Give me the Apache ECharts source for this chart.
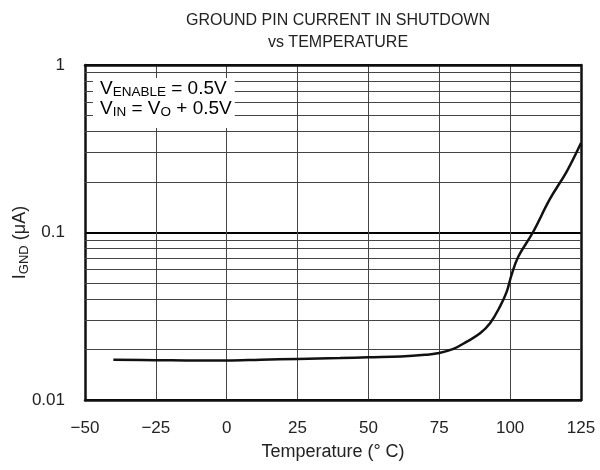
<!DOCTYPE html>
<html>
<head>
<meta charset="utf-8">
<script src="https://cdn.jsdelivr.net/npm/echarts@6/dist/echarts.min.js"></script>
<style>
  html, body { margin: 0; padding: 0; background: #fff; }
  #chart { width: 600px; height: 470px; }
</style>
</head>
<body>
<div id="chart"></div>
<script>
// Ground pin current in shutdown vs temperature
const temperature = [-40, -25, -10, 0, 12, 25, 40, 50, 61.5, 70, 74.4, 80, 84.7, 89.4, 92.9, 96.4, 98.8, 100.5, 102.9, 108, 114, 120, 125];
const groundCurrent = [0.0174, 0.0173, 0.0172, 0.0172, 0.0174, 0.0176, 0.0178, 0.0180, 0.0182, 0.0186, 0.0190, 0.0202, 0.0223, 0.0250, 0.0287, 0.0361, 0.0444, 0.0559, 0.0719, 0.1000, 0.1580, 0.2320, 0.3420];

// Log-decade minor grid values (2..9 within each decade)
const minorGrid = [0.02, 0.03, 0.04, 0.05, 0.06, 0.07, 0.08, 0.09, 0.2, 0.3, 0.4, 0.5, 0.6, 0.7, 0.8, 0.9];
const yTickLabels = { 0.01: '0.01', 0.1: '0.1', 1: '1' };

const FONT = '"Liberation Sans", Arial, Helvetica, sans-serif';

const chart = echarts.init(document.getElementById('chart'));

const frameAxis = { show: true, onZero: false, lineStyle: { color: '#111', width: 2.5 } };

const option = {
  backgroundColor: '#fff',
  animation: false,
  title: {
    text: 'GROUND PIN CURRENT IN SHUTDOWN\nvs TEMPERATURE',
    left: 333,
    textAlign: 'center',
    top: 5,
    textStyle: { fontFamily: FONT, fontSize: 16, fontWeight: 'normal', color: '#222', lineHeight: 22 }
  },
  grid: { left: 85, right: 19, top: 65, bottom: 70, containLabel: false, outerBoundsMode: 'none' },
  xAxis: [{
    type: 'value',
    min: -50, max: 125, interval: 25,
    name: 'Temperature (° C)',
    nameLocation: 'middle',
    nameGap: 43,
    nameTextStyle: { fontFamily: FONT, fontSize: 18, color: '#222' },
    axisLine: frameAxis,
    axisTick: { show: false },
    axisLabel: {
      margin: 20, fontFamily: FONT, fontSize: 17, color: '#222',
      formatter: v => (v < 0 ? '\u2212' + Math.abs(v) : String(v))
    },
    splitLine: { show: true, lineStyle: { color: '#444', width: 1 } }
  }, {
    type: 'value', position: 'top',
    min: -50, max: 125, interval: 25,
    axisLine: frameAxis,
    axisTick: { show: false }, axisLabel: { show: false }, splitLine: { show: false }
  }],
  yAxis: [{
    type: 'log',
    logBase: 10,
    min: 0.01, max: 1,
    name: '{a|I}{b|GND}{a| (\u03bcA)}',
    nameLocation: 'middle',
    nameGap: 54,
    nameMoveOverlap: false,
    nameTextStyle: {
      padding: [0, 20, 0, 0],
      rich: {
        a: { fontFamily: FONT, fontSize: 18, color: '#222', lineHeight: 22 },
        b: { fontFamily: FONT, fontSize: 13, color: '#222', lineHeight: 22, verticalAlign: 'bottom', padding: [7, 0, 0, 0] }
      }
    },
    axisLine: frameAxis,
    axisTick: { show: false },
    axisLabel: {
      margin: 20, fontFamily: FONT, fontSize: 17, color: '#222',
      formatter: v => yTickLabels[+v.toPrecision(3)] || ''
    },
    splitLine: { show: true, lineStyle: { color: '#000', width: 2 } }
  }, {
    type: 'log', logBase: 10, position: 'right',
    min: 0.01, max: 1,
    axisLine: frameAxis,
    axisTick: { show: false }, axisLabel: { show: false }, splitLine: { show: false }
  }],
  series: [{
    type: 'line',
    xAxisIndex: 0, yAxisIndex: 0,
    data: temperature.map((t, i) => [t, groundCurrent[i]]),
    smooth: 0.4,
    showSymbol: false,
    lineStyle: { color: '#111', width: 2.5 },
    z: 5,
    markLine: {
      silent: true,
      symbol: 'none',
      label: { show: false },
      lineStyle: { color: '#444', width: 1, type: 'solid' },
      data: minorGrid.map(v => ({ yAxis: v })),
      z: 1
    }
  }],
  graphic: [{
    type: 'text',
    left: 93, top: 78,
    z: 100,
    style: {
      text: '{v|V}{s|ENABLE}{v| = 0.5V}\n{v|V}{s|IN}{v| = V}{s|O}{v| + 0.5V}',
      backgroundColor: '#fff',
      padding: [1, 3, 9, 7],
      rich: {
        v: { fontFamily: FONT, fontSize: 19, color: '#222', lineHeight: 20 },
        s: { fontFamily: FONT, fontSize: 13.5, color: '#222', lineHeight: 20, verticalAlign: 'bottom', padding: [7, 0, 0, 0] }
      }
    }
  }]
};

chart.setOption(option);
</script>
</body>
</html>
